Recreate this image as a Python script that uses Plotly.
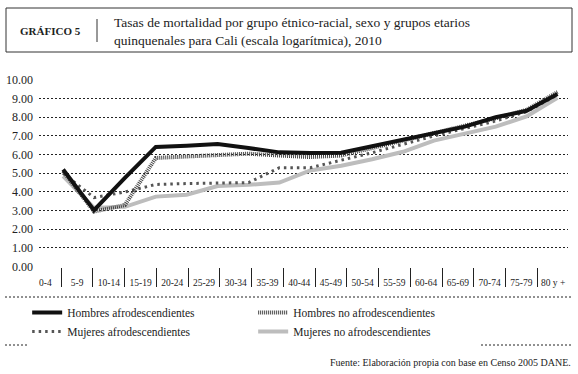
import plotly.graph_objects as go

age_groups = ["0-4", "5-9", "10-14", "15-19", "20-24", "25-29", "30-34", "35-39",
              "40-44", "45-49", "50-54", "55-59", "60-64", "65-69", "70-74", "75-79", "80 y +"]

hombres_afro = [5.20, 3.02, 4.75, 6.41, 6.48, 6.57, 6.35, 6.12, 6.08, 6.10,
                6.45, 6.80, 7.15, 7.50, 8.00, 8.35, 9.25]
hombres_no_afro = [5.10, 2.95, 3.30, 5.82, 5.90, 6.00, 6.05, 5.95, 5.87, 5.95,
                   6.35, 6.75, 7.15, 7.52, 7.95, 8.40, 9.35]
mujeres_afro = [5.00, 3.70, 4.00, 4.40, 4.45, 4.47, 4.50, 5.30, 5.30, 5.70,
                6.10, 6.55, 7.00, 7.40, 7.80, 8.30, 9.20]
mujeres_no_afro = [4.85, 3.15, 3.20, 3.75, 3.85, 4.32, 4.38, 4.50, 5.15, 5.40,
                   5.75, 6.15, 6.75, 7.15, 7.50, 8.05, 9.05]

y_ticks = list(range(0, 11))

W, H = 578, 374
ML, MR, MT, MB = 39, 10, 79, 107
PW, PH = W - ML - MR, H - MT - MB
FONT = "Liberation Serif"


def px_x(px):
    return (px - ML) / PW


def px_y(py):
    return (H - MB - py) / PH


fig = go.Figure()

series = [
    ("Mujeres no afrodescendientes", mujeres_no_afro, dict(color="#bdbdbd", width=4), 4),
    ("Mujeres afrodescendientes", mujeres_afro, dict(color="#555555", width=3, dash="2.5px,4px"), 3),
    ("Hombres no afrodescendientes", hombres_no_afro, dict(color="#444444", width=4, dash="1px,1px"), 2),
    ("Hombres afrodescendientes", hombres_afro, dict(color="#111111", width=4), 1),
]
for name, vals, line, rank in series:
    fig.add_trace(go.Scatter(x=age_groups, y=vals, name=name, mode="lines",
                             line=line, legendrank=rank, hoverinfo="skip"))

# helper trace carrying the category labels axis
fig.add_trace(go.Scatter(x=age_groups, y=[None] * len(age_groups), xaxis="x2",
                         mode="lines", showlegend=False, hoverinfo="skip"))

fig.update_layout(
    width=W, height=H,
    margin=dict(l=ML, r=MR, t=MT, b=MB, autoexpand=False),
    paper_bgcolor="white", plot_bgcolor="white",
    font=dict(family=FONT, color="#222", size=11),
    showlegend=True,
    legend=dict(orientation="h", xref="container", yref="container",
                x=0.047, y=0.203, xanchor="left", yanchor="top",
                entrywidth=181, entrywidthmode="pixels",
                font=dict(size=11.5, family=FONT, color="#222"),
                traceorder="normal", tracegroupgap=0, itemwidth=30),
    xaxis=dict(type="category", range=[-0.78, 16.34], showgrid=False,
               showticklabels=False, ticks="", zeroline=False, showline=False,
               automargin=False),
    xaxis2=dict(type="category", overlaying="x", side="bottom", anchor="y",
                range=[-0.2, 16.47], showgrid=False, ticks="outside",
                tickson="boundaries", ticklen=19, tickwidth=1, tickcolor="#222",
                tickangle=0, automargin=False, ticklabelstandoff=8,
                tickfont=dict(size=9.5, family=FONT, color="#222"),
                showline=False, zeroline=False),
    yaxis=dict(range=[-0.02, 10.05], tickvals=y_ticks, tickformat=".2f",
               showgrid=True, gridcolor="#222", gridwidth=1, griddash="2px,2px",
               zeroline=False, showline=False, ticks="", automargin=False,
               ticklabelstandoff=5,
               tickfont=dict(size=12, family=FONT, color="#222")),
)

shapes = [
    dict(type="rect", xref="paper", yref="paper", x0=px_x(6), x1=px_x(572),
         y0=px_y(8), y1=px_y(52), line=dict(color="#333", width=1)),
    dict(type="line", xref="paper", yref="paper", x0=px_x(97), x1=px_x(97),
         y0=px_y(19), y1=px_y(42), line=dict(color="#333", width=1)),
    dict(type="line", xref="paper", yref="paper", x0=px_x(5), x1=px_x(572),
         y0=px_y(297), y1=px_y(297), line=dict(color="#222", width=1, dash="2px,2px")),
    dict(type="line", xref="paper", yref="paper", x0=px_x(5), x1=px_x(572),
         y0=px_y(345), y1=px_y(345), line=dict(color="#222", width=1, dash="2px,2px")),
]
fig.update_layout(shapes=shapes)

fig.add_annotation(text="<b>GRÁFICO 5</b>", xref="paper", yref="paper",
                   x=px_x(18), y=px_y(31), xanchor="left", yanchor="middle",
                   showarrow=False, font=dict(size=11, family=FONT, color="#222"))
fig.add_annotation(text="Tasas de mortalidad por grupo étnico-racial, sexo y grupos etarios<br>"
                        "quinquenales para Cali (escala logarítmica), 2010",
                   xref="paper", yref="paper", x=px_x(112), y=px_y(31),
                   xanchor="left", yanchor="middle", align="left", showarrow=False,
                   font=dict(size=13.5, family=FONT, color="#222"))
fig.add_annotation(text="Fuente: Elaboración propia con base en Censo 2005 DANE.",
                   xref="paper", yref="paper", x=px_x(573), y=px_y(362),
                   xanchor="right", yanchor="middle", showarrow=False,
                   font=dict(size=10, family=FONT, color="#222"))

fig.write_html("out.html", config={"displayModeBar": False},
               post_script="document.body.style.margin='0';")
